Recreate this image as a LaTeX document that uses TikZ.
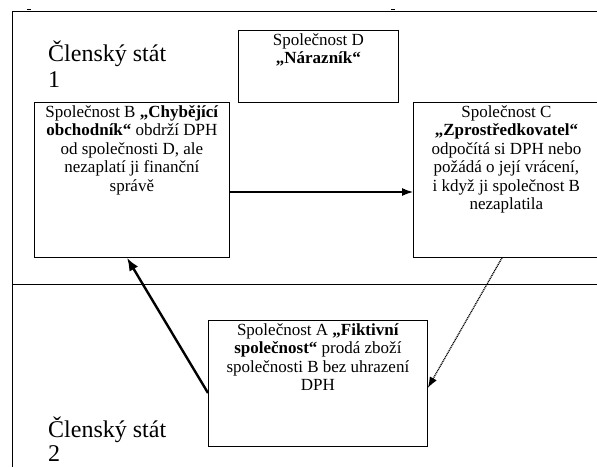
\documentclass[tikz,border=0pt]{standalone}
\usepackage{fontspec}
\setmainfont{Liberation Serif}
\usetikzlibrary{arrows.meta}
\begin{document}
\begin{tikzpicture}[x=1pt,y=-1pt,
  frame/.style={line width=0.8pt},
  box/.style={draw, line width=0.8pt, rectangle, anchor=north west, inner sep=0pt},
  boxtext/.style={anchor=north, align=center, font=\fontsize{17}{18.5}\selectfont, inner sep=1pt, yshift=-2pt},
  statelabel/.style={anchor=north west, align=left, font=\fontsize{24}{26}\selectfont, inner sep=0pt},
  statelabeltight/.style={anchor=north west, align=left, font=\fontsize{24}{24}\selectfont, inner sep=0pt},
  tipthin/.style={-{Latex[length=11pt,width=8pt]}},
  tipthick/.style={-{Latex[length=13pt,width=10pt]}}
]
\useasboundingbox (0,0) rectangle (597,467);
% frame
\coordinate (tl) at (12,11);
\coordinate (tr) at (597,11);
\coordinate (bl) at (12,467);
\coordinate (ml) at (12,284);
\coordinate (mr) at (597,284);
\draw[frame] (tr) -- (tl) -- (bl);
\draw[frame] (ml) -- (mr);
\coordinate (t1a) at (27,9); \coordinate (t1b) at (31,9);
\coordinate (t2a) at (391,9); \coordinate (t2b) at (395,9);
\draw[frame] (t1a) -- (t1b);
\draw[frame] (t2a) -- (t2b);
% state labels
\node[statelabel] (s1) at (48,41) {Členský stát\\1};
\node[statelabeltight] (s2) at (48,417) {Členský stát\\2};
% boxes
\node[box, minimum width=160pt, minimum height=72pt,
  label={[boxtext]north:Společnost D\\\textbf{„Nárazník“}}] (D) at (238,30) {};
\node[box, minimum width=195pt, minimum height=155pt,
  label={[boxtext]north:Společnost B \textbf{„Chybějící}\\\textbf{obchodník“} obdrží DPH\\od společnosti D, ale\\nezaplatí ji finanční\\správě}] (B) at (34,102) {};
\node[box, minimum width=186pt, minimum height=155pt,
  label={[boxtext]north:Společnost C\\\textbf{„Zprostředkovatel“}\\odpočítá si DPH nebo\\požádá o její vrácení,\\i když ji společnost B\\nezaplatila}] (C) at (413,102) {};
\node[box, minimum width=219pt, minimum height=126pt,
  label={[boxtext]north:Společnost A \textbf{„Fiktivní}\\\textbf{společnost“} prodá zboží\\společnosti B bez uhrazení\\DPH}] (A) at (208,320) {};
% connectors
\draw[tipthin, line width=1.1pt] (B.east |- 0,192) -- (C.west |- 0,192);
\draw[tipthick, line width=2.4pt] (A.west |- 0,393) -- (B.south -| 127,0);
\draw[tipthin, line width=1.3pt, dash pattern=on 1pt off 0.8pt] (C.south -| 502,0) -- (A.east |- 0,388);
\end{tikzpicture}
\end{document}
